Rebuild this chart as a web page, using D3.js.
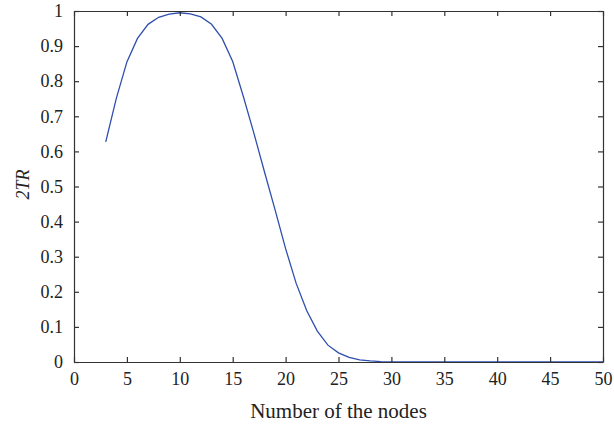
<!DOCTYPE html>
<html>
<head>
<meta charset="utf-8">
<script src="https://cdn.jsdelivr.net/npm/d3@7"></script>
<style>
  html, body { margin: 0; padding: 0; background: #fff; }
  svg { display: block; }
  text { font-family: "Liberation Serif", "DejaVu Serif", serif; fill: #222; }
</style>
</head>
<body>
<svg id="chart" width="614" height="427"></svg>
<script>
const nodes = [3,4,5,6,7,8,9,10,11,12,13,14,15,16,17,18,19,20,21,22,23,24,25,26,27,28,29,30,31,32,33,34,35,36,37,38,39,40,41,42,43,44,45,46,47,48,49,50];
const values = [0.627,0.751,0.855,0.922,0.962,0.982,0.991,0.995,0.992,0.983,0.962,0.922,0.856,0.757,0.652,0.542,0.434,0.323,0.224,0.146,0.088,0.048,0.026,0.013,0.006,0.003,0.001,0,0,0,0,0,0,0,0,0,0,0,0,0,0,0,0,0,0,0,0,0];
const xTicks = [0,5,10,15,20,25,30,35,40,45,50];
const yTicks = [0,0.1,0.2,0.3,0.4,0.5,0.6,0.7,0.8,0.9,1];
const xLabel = "Number of the nodes";
const yLabel = "2TR";

const svg = d3.select("#chart");
const L = 74, R = 603, T = 11, B = 362;
const x = d3.scaleLinear().domain([0, 50]).range([L, R]);
const y = d3.scaleLinear().domain([0, 1]).range([B, T]);
const axisColor = "#333";
const tickLen = 5;
const serif = '"Liberation Serif", "DejaVu Serif", serif';

// line
const line = d3.line().x((d, i) => x(nodes[i])).y(d => y(d));
svg.append("path")
  .datum(values)
  .attr("d", line)
  .attr("fill", "none")
  .attr("stroke", "#2f4fae")
  .attr("stroke-width", 1.3);

// axes (ticks inward)
const fmt = d => d === 0 || d === 1 ? String(d) : d3.format(".1f")(d);
const gx = svg.append("g").attr("transform", `translate(0,${B})`)
  .call(d3.axisBottom(x).tickValues(xTicks).tickSizeInner(-tickLen).tickSizeOuter(0).tickPadding(10));
const gy = svg.append("g").attr("transform", `translate(${L},0)`)
  .call(d3.axisLeft(y).tickValues(yTicks).tickFormat(fmt).tickSizeInner(-tickLen).tickSizeOuter(0).tickPadding(11));
const gt = svg.append("g").attr("transform", `translate(0,${T})`)
  .call(d3.axisTop(x).tickValues(xTicks).tickFormat("").tickSizeInner(-tickLen).tickSizeOuter(0));
const gr = svg.append("g").attr("transform", `translate(${R},0)`)
  .call(d3.axisRight(y).tickValues(yTicks).tickFormat("").tickSizeInner(-tickLen).tickSizeOuter(0));

[gx, gy, gt, gr].forEach(g => {
  g.attr("font-family", serif).attr("font-size", 18);
  g.select(".domain").attr("stroke", axisColor).attr("stroke-width", 1.2);
  g.selectAll(".tick line").attr("stroke", axisColor).attr("stroke-width", 1.2);
  g.selectAll(".tick text")
    .style("font-family", serif)
    .style("font-size", "18px")
    .attr("fill", "#222");
});

// axis titles
svg.append("text")
  .attr("x", (L + R) / 2)
  .attr("y", 418)
  .attr("text-anchor", "middle")
  .style("font-size", "21px")
  .text(xLabel);

svg.append("text")
  .attr("transform", `translate(29,${(T + B) / 2 - 2}) rotate(-90)`)
  .attr("text-anchor", "middle")
  .style("font-size", "18px")
  .style("font-style", "italic")
  .text(yLabel);
</script>
</body>
</html>
